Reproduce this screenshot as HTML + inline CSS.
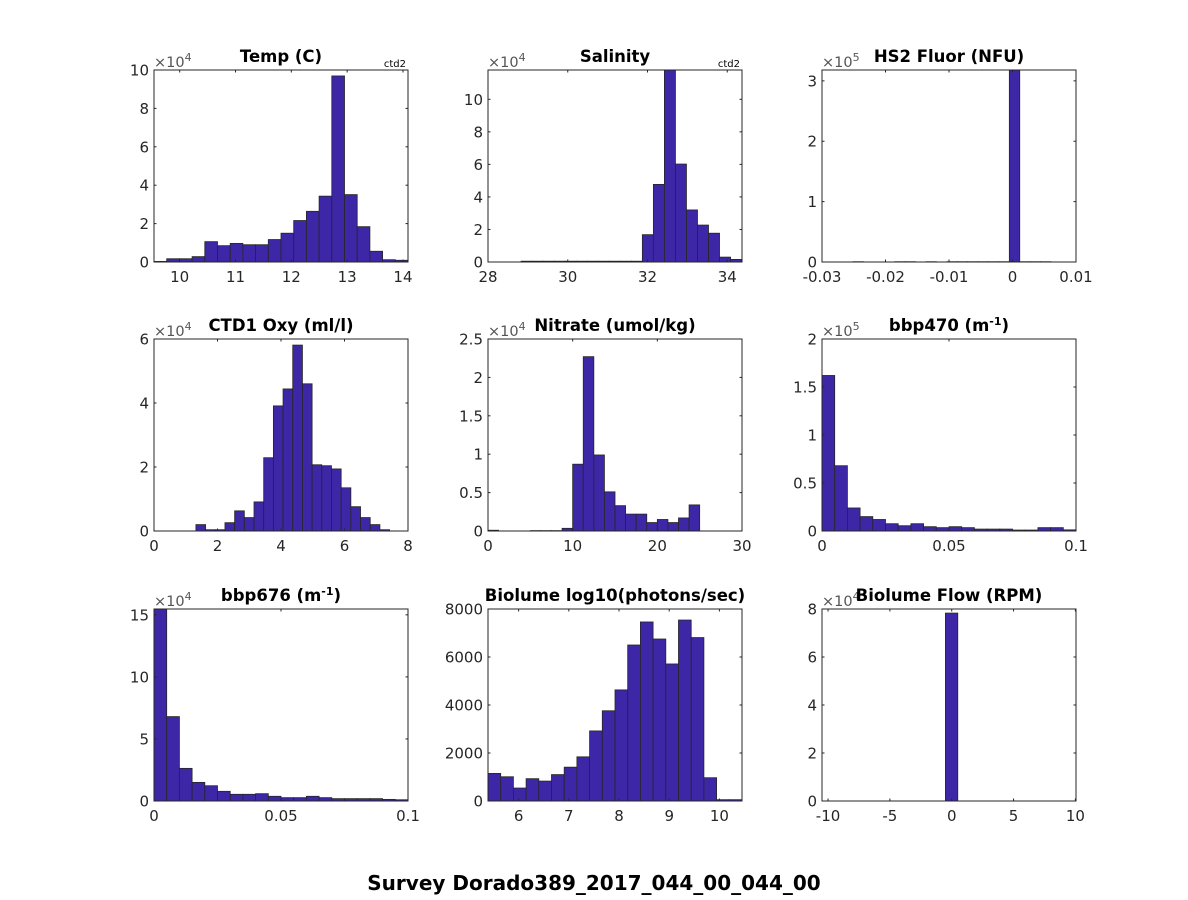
<!DOCTYPE html>
<html><head><meta charset="utf-8"><style>
html,body{margin:0;padding:0;background:#fff;}
svg{display:block;font-family:"DejaVu Sans","Liberation Sans",sans-serif;}
</style></head><body>
<svg id="fig" width="1188" height="900" viewBox="0 0 1188 900" xmlns="http://www.w3.org/2000/svg">
<rect width="1188" height="900" fill="#fff"/>
<text x="594" y="890" text-anchor="middle" font-size="20" font-weight="bold" fill="#000">Survey Dorado389_2017_044_00_044_00</text>
</svg>
<script>
// Panel data arrays (bin counts in axis units)
const tempCounts = [0.03,0.17,0.17,0.28,1.06,0.85,0.97,0.9,0.9,1.17,1.5,2.16,2.64,3.43,9.69,3.51,1.84,0.56,0.12,0.09];
const salCounts = [0,0,0,0.05,0.05,0.05,0.05,0.05,0.05,0.05,0.05,0.05,0.05,0.05,1.68,4.77,12,6.02,3.2,2.27,1.77,0.3,0.16];
const fluorCounts = [0.005,0,0,0,0.005,0.005,0,0.005,0,0.005,0.005,0.005,0.005,0.005,0.005,3.3,0.005,0.005,0.005];
const oxyCounts = [0.2,0.04,0.04,0.26,0.63,0.42,0.91,2.29,3.91,4.44,5.81,4.6,2.07,2.04,1.94,1.35,0.76,0.42,0.2,0.04];
const nitrateCounts = [0.01,0,0,0,0.005,0.005,0.005,0.035,0.87,2.27,0.99,0.51,0.33,0.22,0.22,0.11,0.15,0.11,0.17,0.34];
const bbp470Counts = [1.62,0.68,0.24,0.15,0.12,0.076,0.055,0.076,0.045,0.035,0.045,0.035,0.02,0.02,0.02,0.01,0.01,0.035,0.035,0.012];
const bbp676Counts = [15.6,6.8,2.63,1.5,1.23,0.78,0.54,0.54,0.59,0.38,0.27,0.27,0.38,0.27,0.19,0.19,0.19,0.19,0.13,0.1];
const biolumeCounts = [1150,1010,540,930,830,1100,1410,1840,2920,3760,4630,6500,7460,6750,5710,7540,6810,970,55,55];
const flowCounts = [7.83];

const tempXTicks = [10,11,12,13,14];
const salXTicks = [28,30,32,34];
const fluorXTicks = [-0.03,-0.02,-0.01,0,0.01];
const oxyXTicks = [0,2,4,6,8];
const nitrateXTicks = [0,10,20,30];
const bbpXTicks = [0,0.05,0.1];
const biolumeXTicks = [6,7,8,9,10];
const flowXTicks = [-10,-5,0,5,10];

const panels = [
 {name:'temp',title:['Temp (C)'],col:0,row:0,counts:tempCounts,x0:9.54,bw:0.2275,xlim:[9.54,14.09],ylim:[0,10],xt:tempXTicks,yt:[0,2,4,6,8,10],exp:'4',ctd:true},
 {name:'salinity',title:['Salinity'],col:1,row:0,counts:salCounts,x0:28,bw:0.2765,xlim:[28,34.37],ylim:[0,11.8],xt:salXTicks,yt:[0,2,4,6,8,10],exp:'4',ctd:true},
 {name:'hs2-fluor',title:['HS2 Fluor (NFU)'],col:2,row:0,counts:fluorCounts,x0:-0.0251,bw:0.00164,xlim:[-0.03,0.01],ylim:[0,3.18],xt:fluorXTicks,yt:[0,1,2,3],exp:'5'},
 {name:'ctd1-oxy',title:['CTD1 Oxy (ml/l)'],col:0,row:1,counts:oxyCounts,x0:1.32,bw:0.305,xlim:[0,8],ylim:[0,6],xt:oxyXTicks,yt:[0,2,4,6],exp:'4'},
 {name:'nitrate',title:['Nitrate (umol/kg)'],col:1,row:1,counts:nitrateCounts,x0:0,bw:1.25,xlim:[0,30],ylim:[0,2.5],xt:nitrateXTicks,yt:[0,0.5,1,1.5,2,2.5],exp:'4'},
 {name:'bbp470',title:['bbp470 (m','-1',')'],col:2,row:1,counts:bbp470Counts,x0:0,bw:0.005,xlim:[0,0.1],ylim:[0,2],xt:bbpXTicks,yt:[0,0.5,1,1.5,2],exp:'5'},
 {name:'bbp676',title:['bbp676 (m','-1',')'],col:0,row:2,counts:bbp676Counts,x0:0,bw:0.005,xlim:[0,0.1],ylim:[0,15.47],xt:bbpXTicks,yt:[0,5,10,15],exp:'4'},
 {name:'biolume',title:['Biolume log10(photons/sec)'],col:1,row:2,counts:biolumeCounts,x0:5.39,bw:0.253,xlim:[5.39,10.45],ylim:[0,8000],xt:biolumeXTicks,yt:[0,2000,4000,6000,8000],exp:null},
 {name:'biolume-flow',title:['Biolume Flow (RPM)'],col:2,row:2,counts:flowCounts,x0:-0.51,bw:1,xlim:[-10.49,10.05],ylim:[0,8],xt:flowXTicks,yt:[0,2,4,6,8],exp:'4'}
];

const NS='http://www.w3.org/2000/svg';
const svg=document.getElementById('fig');
const colX=[154,488,822], rowY=[70,339,609], W=254, H=192;
function mk(tag,attrs,parent){const e=document.createElementNS(NS,tag);for(const k in attrs)e.setAttribute(k,attrs[k]);parent.appendChild(e);return e;}
function fmt(v){return String(v);}

panels.forEach(p=>{
  const L=colX[p.col], T=rowY[p.row], B=T+H, R=L+W;
  const g=mk('g',{},svg);
  
  
  const sx=v=>L+(v-p.xlim[0])/(p.xlim[1]-p.xlim[0])*W;
  const sy=v=>B-(v-p.ylim[0])/(p.ylim[1]-p.ylim[0])*H;
  mk('defs',{},g).innerHTML='<clipPath id="clip-'+p.name+'"><rect x="'+L+'" y="'+T+'" width="'+W+'" height="'+H+'"/></clipPath>';
  const bars=mk('g',{'clip-path':'url(#clip-'+p.name+')'},g);
  p.counts.forEach((c,i)=>{
    const x1=sx(p.x0+i*p.bw), x2=sx(p.x0+(i+1)*p.bw);
    const y=sy(c);
    const r=mk('rect',{x:x1,y:y,width:Math.max(0,x2-x1),height:Math.max(0,B-y),fill:'#3d27a7',stroke:'#262626','stroke-width':'0.8'},bars);
    
    
  });
  const frame=mk('rect',{x:L,y:T,width:W,height:H,fill:'none',stroke:'#262626','stroke-width':'1'},g);
  
  
  p.xt.forEach(v=>{
    const x=sx(v);
    mk('line',{x1:x,x2:x,y1:B,y2:B-2.5,stroke:'#262626'},g);
    mk('line',{x1:x,x2:x,y1:T,y2:T+2.5,stroke:'#262626'},g);
    const t=mk('text',{x:x,y:B+20,'text-anchor':'middle','font-size':'15',fill:'#262626'},g);
    t.textContent=fmt(v);
    
    
  });
  p.yt.forEach(v=>{
    const y=sy(v);
    mk('line',{x1:L,x2:L+2.5,y1:y,y2:y,stroke:'#262626'},g);
    mk('line',{x1:R,x2:R-2.5,y1:y,y2:y,stroke:'#262626'},g);
    const t=mk('text',{x:L-5,y:y+5.5,'text-anchor':'end','font-size':'15',fill:'#262626'},g);
    t.textContent=fmt(v);
    
    
  });
  if(p.exp){
    const e=mk('text',{x:L,y:T-3,'font-size':'14.5',fill:'#555'},g);
    e.innerHTML='×10<tspan dy="-6" font-size="11">'+p.exp+'</tspan>';
    
    
  }
  if(p.ctd){
    const c=mk('text',{x:R-2,y:T-3,'text-anchor':'end','font-size':'10',fill:'#000'},g);
    c.textContent='ctd2';
    
    
  }
  const tt=mk('text',{x:(L+R)/2,y:T-8,'text-anchor':'middle','font-size':'16.5','font-weight':'bold',fill:'#000'},g);
  if(p.title.length===1){tt.textContent=p.title[0];}
  else{tt.innerHTML=p.title[0]+'<tspan dy="-6" font-size="11">'+p.title[1]+'</tspan><tspan dy="6">'+p.title[2]+'</tspan>';}
  
  
});
</script>
</body></html>
